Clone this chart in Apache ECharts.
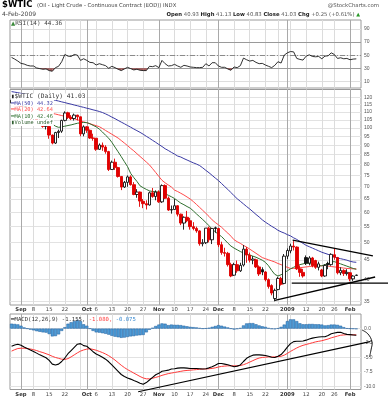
<!DOCTYPE html>
<html><head><meta charset="utf-8">
<script src="https://cdn.jsdelivr.net/npm/echarts@6/dist/echarts.min.js"></script>
<style>html,body{margin:0;padding:0;background:#fff}#c{width:388px;height:400px}</style>
</head><body><div id="c"></div>
<script>
const dates = [
'2008-08-27','2008-08-28','2008-08-29',
'2008-09-02','2008-09-03','2008-09-04','2008-09-05','2008-09-08','2008-09-09','2008-09-10','2008-09-11','2008-09-12',
'2008-09-15','2008-09-16','2008-09-17','2008-09-18','2008-09-19','2008-09-22','2008-09-23','2008-09-24','2008-09-25','2008-09-26',
'2008-09-29','2008-09-30',
'2008-10-01','2008-10-02','2008-10-03','2008-10-06','2008-10-07','2008-10-08','2008-10-09','2008-10-10','2008-10-13','2008-10-14',
'2008-10-15','2008-10-16','2008-10-17','2008-10-20','2008-10-21','2008-10-22','2008-10-23','2008-10-24','2008-10-27','2008-10-28',
'2008-10-29','2008-10-30','2008-10-31',
'2008-11-03','2008-11-04','2008-11-05','2008-11-06','2008-11-07','2008-11-10','2008-11-11','2008-11-12','2008-11-13','2008-11-14',
'2008-11-17','2008-11-18','2008-11-19','2008-11-20','2008-11-21','2008-11-24','2008-11-25','2008-11-26','2008-11-28',
'2008-12-01','2008-12-02','2008-12-03','2008-12-04','2008-12-05','2008-12-08','2008-12-09','2008-12-10','2008-12-11','2008-12-12',
'2008-12-15','2008-12-16','2008-12-17','2008-12-18','2008-12-19','2008-12-22','2008-12-23','2008-12-24','2008-12-26','2008-12-29',
'2008-12-30','2008-12-31',
'2009-01-02','2009-01-05','2009-01-06','2009-01-07','2009-01-08','2009-01-09','2009-01-12','2009-01-13','2009-01-14','2009-01-15',
'2009-01-16','2009-01-20','2009-01-21','2009-01-22','2009-01-23','2009-01-26','2009-01-27','2009-01-28','2009-01-29','2009-01-30',
'2009-02-02','2009-02-03','2009-02-04'];

const open = [116.3,118.2,115.6,115.0,109.5,109.3,108.0,106.5,106.3,103.3,
102.5,101.0,100.8,95.7,91.2,97.2,98.0,104.6,109.5,106.6,
105.8,108.0,106.9,96.4,100.6,98.5,94.0,93.9,87.8,90.0,
89.0,86.6,77.7,81.2,78.6,74.5,69.9,71.9,74.3,70.9,
66.8,67.8,64.1,63.2,62.7,67.5,66.0,67.8,63.9,70.5,
65.3,60.8,61.0,62.4,59.3,56.2,58.2,57.0,55.0,54.4,
53.6,49.6,49.9,54.5,50.8,54.6,54.4,49.3,47.0,46.8,
43.7,41.0,43.7,42.1,43.6,48.0,46.3,44.9,45.0,43.1,
42.4,41.8,39.9,38.5,35.6,37.6,40.2,39.0,46.0,47.5,
48.9,48.6,42.6,41.7,45.6,44.1,45.5,44.8,43.0,42.3,
40.8,44.0,43.7,46.4,45.6,41.6,42.2,41.4,41.6,40.1,
40.93];
const high = [119.4,118.6,117.4,116.0,111.5,109.9,108.9,108.0,106.9,105.2,
103.0,102.0,101.0,96.0,97.6,98.9,105.0,110.5,110.2,108.0,
109.0,108.2,107.0,101.5,101.0,99.0,96.5,94.0,91.0,91.5,
90.0,87.0,82.0,83.0,79.0,74.6,72.5,75.0,75.0,72.0,
69.0,68.0,65.0,64.5,68.0,69.5,68.5,68.5,71.0,71.0,
66.0,62.5,65.0,62.6,59.5,58.5,60.5,58.0,56.5,55.0,
53.8,51.0,54.5,55.0,54.5,55.0,54.6,50.2,48.4,47.2,
44.2,44.2,44.8,44.2,49.2,48.6,47.0,46.0,45.3,43.5,
43.0,42.0,40.2,38.8,37.8,40.6,40.6,46.6,48.2,49.6,
50.4,48.8,43.5,42.6,46.2,46.0,45.8,45.0,44.5,42.6,
43.8,44.5,46.8,48.2,45.8,43.0,42.5,42.5,41.8,41.0,
41.13];
const low = [115.6,114.6,114.5,105.5,106.8,107.0,104.7,103.5,102.3,101.7,
100.1,99.0,93.6,90.5,90.7,94.0,97.0,104.0,105.5,104.8,
104.5,104.6,95.0,95.0,97.0,93.5,92.5,87.0,87.5,87.0,
85.5,77.0,77.5,77.5,74.0,68.6,69.5,70.0,70.5,66.5,
65.5,62.0,61.5,61.0,62.5,65.5,64.5,63.5,63.5,65.0,
60.5,59.5,61.0,58.5,55.5,54.0,56.5,54.0,53.8,53.0,
49.0,48.8,49.5,50.0,49.5,53.0,48.6,46.4,45.9,43.2,
40.5,40.8,41.6,41.8,43.2,44.2,44.3,43.8,42.8,40.8,
41.0,39.5,37.8,36.3,35.0,37.4,38.5,38.8,45.2,46.8,
47.6,42.3,40.6,40.4,43.6,43.5,43.0,42.6,42.2,40.5,
40.6,42.5,43.4,45.0,41.2,41.0,40.8,40.9,39.5,39.6,
40.83];
const close = [118.2,115.6,115.5,109.7,109.4,107.9,106.2,106.3,103.3,102.6,
100.9,101.2,95.7,91.2,97.2,97.9,104.6,109.4,106.6,105.7,
108.0,106.9,96.4,100.6,98.5,94.0,93.9,87.8,90.1,89.0,
86.6,77.7,81.2,78.6,74.5,69.9,71.9,74.3,70.9,66.8,
67.8,64.2,63.2,62.7,67.5,66.0,67.8,63.9,70.5,65.3,
60.8,61.0,62.4,59.3,56.2,58.2,57.0,55.0,54.4,53.6,
49.6,49.9,54.5,50.8,54.4,54.4,49.3,47.0,46.8,43.7,
40.8,43.7,42.1,43.5,48.0,46.3,44.9,45.2,43.1,41.3,
41.8,39.9,38.3,36.8,37.4,40.2,38.8,46.0,47.6,48.9,
48.6,42.6,41.7,40.8,44.1,45.5,43.4,43.0,43.9,40.8,
43.5,43.7,46.5,45.7,41.6,42.2,41.4,41.7,40.1,40.78,
41.03];

const ma50 = [124.5,124.1,123.7,123.2,122.8,122.3,121.9,121.4,121.0,120.5,
120.0,119.6,119.1,118.6,118.1,117.6,117.0,116.5,115.9,115.4,
114.8,114.3,113.7,113.2,112.6,112.1,111.5,111.0,110.4,109.7,
108.8,107.8,106.7,105.7,104.6,103.5,102.5,101.4,100.4,99.3,
98.3,97.3,96.2,95.0,93.9,92.7,91.6,90.4,89.3,88.1,
87.2,86.2,85.3,84.3,83.8,83.0,82.3,81.6,80.9,80.3,
79.6,78.5,77.3,76.2,75.0,73.8,72.7,71.4,70.1,68.9,
67.6,66.3,65.1,64.1,63.1,62.1,61.2,60.2,59.2,58.3,
57.3,56.5,55.8,55.1,54.5,53.8,53.3,52.9,52.4,52.0,
51.4,50.9,50.3,49.7,49.1,48.7,48.3,47.9,47.5,47.1,
46.8,46.5,46.2,45.8,45.5,45.3,45.1,44.9,44.6,44.4,
44.32];
const ma20 = [114.5,114.2,113.9,113.5,113.1,112.7,112.3,111.9,111.5,111.0,
110.6,110.1,109.6,109.1,108.7,108.2,107.7,107.2,106.7,106.2,
105.6,105.0,104.4,103.7,103.1,102.5,101.9,101.3,100.7,99.6,
98.4,97.3,96.2,95.1,94.0,92.6,91.2,89.8,88.3,87.0,
85.5,84.1,82.7,81.3,79.9,78.1,76.3,74.5,72.8,71.7,
70.8,69.9,68.6,68.0,67.3,66.6,65.8,65.0,64.0,62.9,
61.8,60.7,59.6,58.5,57.3,56.4,55.6,54.8,53.8,52.9,
51.9,50.8,50.2,49.7,49.1,48.6,48.0,47.4,46.8,46.2,
45.6,45.3,45.0,44.7,44.4,44.0,43.7,43.3,43.0,42.7,
42.7,42.8,42.9,43.0,43.1,43.2,43.3,43.35,43.4,43.4,
43.4,43.3,43.2,43.1,43.0,42.9,42.8,42.7,42.65,42.6,
42.64];
const ma10 = [115.5,115.6,115.7,115.0,114.2,113.2,112.0,110.8,109.5,108.2,
106.7,105.5,104.0,102.3,101.0,100.3,100.6,101.0,101.4,101.8,
102.3,102.8,103.1,103.3,103.2,102.5,101.5,100.6,99.2,97.5,
95.6,93.9,91.6,89.0,86.5,84.0,81.5,79.1,75.9,74.0,
72.3,70.4,69.6,68.9,68.3,68.0,67.9,67.8,67.6,67.1,
66.5,65.9,65.2,64.3,63.4,62.8,62.1,61.5,60.5,59.4,
58.4,57.4,56.4,55.3,54.2,53.3,52.5,51.8,50.8,49.8,
48.9,48.3,47.8,47.3,46.9,46.6,46.3,46.0,45.7,45.3,
44.9,44.3,43.4,42.2,41.2,40.8,41.1,41.6,42.1,42.6,
43.0,43.4,43.7,43.9,44.1,44.0,43.8,43.6,43.4,43.4,
43.7,44.0,44.4,44.5,44.2,43.9,43.6,43.3,43.0,42.7,
42.46];

const rsi = [46.5,44,41,37.5,36.5,34.5,33.5,33.5,30.5,29.5,
28.5,29,26.5,25.5,31,33,40,51,48.5,48,
51,50,42,44.5,42,39,38.5,35,37,35.5,
34,30,33,31,28.5,26.5,29,31.5,29.5,27.5,
28.5,27,26.5,26.5,33,32.5,34,31,42,37,
33.5,34,36,33.5,31.5,34.5,33.5,32,31.5,31,
31,31.5,37,33.5,38.5,38.5,33.5,31.5,31.5,29,
27,32,31,34,45.5,43,41,42,39,37,
37.5,35,33,31,34.5,40,38,50,53.5,55.5,
55,45,43.5,42.5,48.5,50.5,48,47.5,48,44.5,
48.5,49,53.5,51,45,46,44.5,45,43,44,
44.36];

const macd = [-3.05,-2.85,-2.72,-2.9,-3.2,-3.45,-3.7,-3.95,-4.25,-4.55,
-4.8,-5.05,-5.5,-6.15,-6.3,-6.15,-5.7,-5.1,-4.35,-3.8,
-3.25,-2.7,-2.6,-2.95,-3.05,-3.5,-4.0,-4.4,-4.65,-4.95,
-5.3,-5.75,-6.3,-6.85,-7.4,-7.95,-8.3,-8.55,-8.75,-9.0,
-9.2,-9.45,-9.65,-9.35,-8.9,-8.45,-8.0,-7.75,-7.4,-7.3,
-7.2,-7.0,-6.95,-6.85,-6.8,-6.8,-6.85,-6.9,-6.9,-6.9,
-6.95,-7.0,-6.95,-6.8,-6.6,-6.35,-6.05,-6.05,-6.15,-6.25,
-6.45,-6.6,-6.5,-6.3,-5.7,-5.15,-4.85,-4.6,-4.55,-4.55,
-4.6,-4.65,-4.8,-4.95,-5.0,-4.8,-4.5,-3.9,-3.2,-2.6,
-2.25,-2.2,-2.18,-2.15,-2.0,-1.8,-1.65,-1.55,-1.45,-1.4,
-1.4,-1.2,-0.9,-0.75,-0.65,-0.65,-0.85,-1.0,-1.05,-1.1,
-1.155];
const signal = [-3.9,-3.65,-3.45,-3.4,-3.4,-3.45,-3.53,-3.65,-3.8,-4.0,
-4.15,-4.35,-4.55,-4.8,-5.0,-5.15,-5.3,-5.35,-5.2,-4.9,
-4.55,-4.2,-3.9,-3.7,-3.55,-3.5,-3.6,-3.75,-3.95,-4.15,
-4.4,-4.7,-5.05,-5.45,-5.9,-6.35,-6.75,-7.1,-7.4,-7.7,
-8.0,-8.3,-8.55,-8.7,-8.7,-8.6,-8.45,-8.3,-8.1,-7.95,
-7.8,-7.7,-7.6,-7.5,-7.4,-7.3,-7.25,-7.2,-7.15,-7.1,
-7.05,-7.0,-7.0,-6.95,-6.9,-6.8,-6.65,-6.55,-6.5,-6.45,
-6.45,-6.45,-6.45,-6.4,-6.25,-6.05,-5.8,-5.55,-5.3,-5.1,
-5.0,-4.95,-4.9,-4.9,-4.9,-4.85,-4.8,-4.6,-4.3,-3.95,
-3.65,-3.35,-3.1,-2.9,-2.75,-2.6,-2.45,-2.3,-2.2,-2.1,
-1.95,-1.8,-1.6,-1.45,-1.3,-1.15,-1.1,-1.05,-1.05,-1.07,
-1.08];
const hist = [0.85,0.8,0.73,0.5,0.2,0.0,-0.17,-0.3,-0.45,-0.55,
-0.65,-0.7,-0.95,-1.35,-1.3,-1.0,-0.4,0.25,0.85,1.1,
1.3,1.5,1.3,0.75,0.5,0.0,-0.4,-0.65,-0.7,-0.8,
-0.9,-1.05,-1.25,-1.4,-1.5,-1.6,-1.55,-1.45,-1.35,-1.3,
-1.2,-1.15,-1.1,-0.65,-0.2,0.15,0.45,0.7,0.9,0.85,
0.6,0.7,0.65,0.65,0.6,0.5,0.4,0.3,0.25,0.2,
0.1,0.0,0.05,0.15,0.3,0.45,0.6,0.5,0.35,0.2,
0.0,-0.15,-0.05,0.1,0.55,0.9,0.95,0.95,0.75,0.55,
0.4,0.3,0.1,-0.05,-0.1,0.05,0.3,0.7,1.3,1.6,
1.6,1.3,0.92,0.75,0.75,0.8,0.8,0.75,0.75,0.7,
0.55,0.6,0.7,0.7,0.65,0.5,0.25,0.05,0.0,-0.03,
-0.075];

const monthLabels = [['2008-09-02','Sep'],['2008-10-01','Oct'],['2008-11-03','Nov'],['2008-12-01','Dec'],['2009-01-02','2009'],['2009-02-02','Feb']];
const weekLabels = [['2008-09-08','8'],['2008-09-15','15'],['2008-09-22','22'],['2008-09-29',''],['2008-10-06','6'],['2008-10-13','13'],
['2008-10-20','20'],['2008-10-27','27'],['2008-11-10','10'],['2008-11-17','17'],['2008-11-24','24'],['2008-12-08','8'],['2008-12-15','15'],
['2008-12-22','22'],['2008-12-29',''],['2009-01-05',''],['2009-01-12','12'],['2009-01-20','20'],['2009-01-26','26']];
const priceTicks = [35,40,45,50,55,60,65,70,75,80,85,90,95,100,105,110,115,120];
const rsiTicks = [10,30,50,70,90];
const macdTicks = [0,-2.5,-5,-7.5,-10];
const rsiOversold = 30;

// annotation trendlines in data space: [index, value]
const priceTrendLines = [[[89.7,50.66],[115.3,46.07]],[[89.4,39.09],[121,39.09]],[[84,35.2],[116,40.55]]];
const macdTrendLines = [[[40.4,-10.94],[114.4,-2.27]]];

const N = dates.length;
const monthIdx = [], weekIdx = [], tickText = {};
monthLabels.forEach(([d,t]) => { const i = dates.indexOf(d); monthIdx.push(i); tickText[i] = '{m|' + t + '}'; });
weekLabels.forEach(([d,t]) => { const i = dates.indexOf(d); weekIdx.push(i); if (t) tickText[i] = t; });
const lineIdx = monthIdx.concat(weekIdx).sort((a,b)=>a-b);
const labelIdx = Object.keys(tickText).map(Number).sort((a,b)=>a-b);

const XMIN = -0.5, XMAX = N + 0.5;
const LBL = 'Liberation Sans';
function xAx(g, withLabels) {
  return {type:'value', gridIndex:g, min:XMIN, max:XMAX, position:'bottom',
    axisLine:{show:false}, axisTick:{show:false, customValues: lineIdx},
    splitLine:{show:true, lineStyle:{color:'#dcdcdc', width:1}},
    axisLabel: withLabels ? {show:true, customValues: labelIdx, formatter: v => tickText[Math.round(v)] || '',
      fontFamily:'DejaVu Sans', fontSize:5.3, color:'#444', margin:2.5,
      rich:{m:{fontWeight:'bold', fontFamily:'DejaVu Sans', fontSize:5.3, color:'#333'}}} : {show:false}};
}
function xMon(g) {
  return {type:'value', gridIndex:g, min:XMIN, max:XMAX, position:'top', axisLine:{show:false},
    axisTick:{show:false, customValues: monthIdx}, axisLabel:{show:false},
    splitLine:{show:true, lineStyle:{color:'#a9a9a9', width:1}}};
}
function yLab(ticks, fmt) {
  return {customValues: ticks, fontFamily: LBL, fontSize:5, color:'#555', margin:3, formatter: fmt};
}

const candleData = dates.map((d,i) => {
  const o = open[i], c = close[i], l = low[i], h = high[i];
  const prev = i > 0 ? close[i-1] : o;
  const col = c >= prev ? '#111111' : '#e00000';
  const fill = c > o ? '#ffffff' : col;
  return {value:[i,o,c,l,h], itemStyle:{color:fill, color0:fill, borderColor:col, borderColor0:col, borderColorDoji:col}};
});
const pair = arr => arr.map((v,i) => [i, v]);

const names = ['$WTIC (Daily) 41.03','MA(50) 44.32','MA(20) 42.64','MA(10) 42.46','Volume undef'];
const legendText = {
  '$WTIC (Daily) 41.03':'{k|▮}{a|$WTIC (Daily) 41.03}',
  'MA(50) 44.32':'{lb|━}{tb|MA(50) 44.32}',
  'MA(20) 42.64':'{lr|━}{tr|MA(20) 42.64}',
  'MA(10) 42.46':'{lg|━}{tg|MA(10) 42.46}',
  'Volume undef':'{lv|▮}{tv|Volume undef}'
};
const C50 = '#3a3aa4', C20 = '#ff4a4a', C10 = '#2f6f2f';
const mono = 'DejaVu Sans Mono';
const tk = (color, size) => ({color, fontSize:size, fontFamily:mono, lineHeight:6.5});

// RSI oversold shading: polygon between the RSI segment and the 30 line, via the axis scales
function rsiFill(params, api) {
  const i = api.value(0), a = api.value(1), b = api.value(2), L = rsiOversold;
  if (i >= N - 1 || (a >= L && b >= L)) return null;
  let pts;
  if (a < L && b < L) pts = [[i,L],[i,a],[i+1,b],[i+1,L]];
  else if (a < L) { const t = (L-a)/(b-a); pts = [[i,L],[i,a],[i+t,L]]; }
  else { const t = (a-L)/(a-b); pts = [[i+t,L],[i+1,b],[i+1,L]]; }
  return {type:'polygon', shape:{points: pts.map(p => api.coord(p))}, style:{fill:'#a04a4a', opacity:0.9}};
}

const chart = echarts.init(document.getElementById('c'), null, {renderer:'canvas', width:388, height:400});
chart.setOption({
  animation:false,
  backgroundColor:'#ffffff',
  grid:[
    {left:10, right:27, top:20, height:68, show:true, borderColor:'#9a9a9a', borderWidth:1},
    {left:10, right:27, top:89.5, height:215.5, show:true, borderColor:'#9a9a9a', borderWidth:1},
    {left:10, right:27, top:314, height:75.5, show:true, borderColor:'#9a9a9a', borderWidth:1}
  ],
  xAxis:[xAx(0,false), xMon(0), xAx(1,true), xMon(1), xAx(2,true), xMon(2)],
  yAxis:[
    {type:'value', gridIndex:0, position:'right', min:0, max:103.5, axisLine:{show:false},
     axisTick:{show:false, customValues: rsiTicks}, axisLabel: yLab(rsiTicks, v => String(v)),
     splitLine:{lineStyle:{color:'#dedede'}}},
    {type:'log', logBase:10, gridIndex:1, position:'right', min:34.23, max:126.1, axisLine:{show:false},
     axisTick:{show:false, customValues: priceTicks}, axisLabel: yLab(priceTicks, v => String(Math.round(v))),
     splitLine:{lineStyle:{color:'#e2e2e2'}}},
    {type:'value', gridIndex:2, position:'right', min:-10.55, max:2.53, axisLine:{show:false},
     axisTick:{show:false, customValues: macdTicks}, axisLabel: yLab(macdTicks, v => Number(v).toFixed(1)),
     splitLine:{lineStyle:{color:'#e2e2e2'}}}
  ],
  legend:{
    left:6, top:93.5, orient:'vertical', itemGap:0, itemWidth:0, itemHeight:6.5, icon:'none', padding:0,
    selectedMode:false, data:names, formatter: n => legendText[n],
    textStyle:{fontFamily:mono, fontSize:5.4, lineHeight:6.5, backgroundColor:'#ffffff', padding:[0,1,0,0],
      rich:{
        k:tk('#222',6), a:tk('#333',6.2),
        lb:tk(C50,6), tb:tk(C50,5.3),
        lr:tk(C20,6), tr:tk(C20,5.3),
        lg:tk(C10,6), tg:tk(C10,5.3),
        lv:tk('#2f5f2f',6), tv:tk('#2f5f2f',5.3)
      }}
  },
  series:[
    {type:'custom', xAxisIndex:0, yAxisIndex:0, silent:true, z:2, renderItem: rsiFill,
     encode:{x:0, y:1}, data: rsi.map((v,i) => [i, v, i + 1 < N ? rsi[i+1] : v])},
    {type:'line', xAxisIndex:0, yAxisIndex:0, data: pair(rsi), showSymbol:false, z:4,
     lineStyle:{color:'#1a1a1a', width:0.9},
     markLine:{silent:true, symbol:'none', z:1, label:{show:false},
       lineStyle:{color:'#9a9a9a', width:1, type:'solid'},
       data:[{yAxis:70},{yAxis:30},{yAxis:50, lineStyle:{type:[5,2,1,2], color:'#8a8a8a'}}]}},
    {type:'candlestick', name:names[0], xAxisIndex:2, yAxisIndex:1, data:candleData, barWidth:3,
     encode:{x:0, y:[1,2,3,4]}, itemStyle:{borderWidth:0.9}, z:3},
    {type:'line', name:names[1], xAxisIndex:2, yAxisIndex:1, data: pair(ma50), showSymbol:false,
     lineStyle:{color:C50, width:1}, itemStyle:{color:C50}, z:2},
    {type:'line', name:names[2], xAxisIndex:2, yAxisIndex:1, data: pair(ma20), showSymbol:false,
     lineStyle:{color:C20, width:1}, itemStyle:{color:C20}, z:2},
    {type:'line', name:names[3], xAxisIndex:2, yAxisIndex:1, data: pair(ma10), showSymbol:false,
     lineStyle:{color:C10, width:1}, itemStyle:{color:C10}, z:2},
    {type:'line', name:names[4], xAxisIndex:2, yAxisIndex:1, data: [], itemStyle:{color:'#2f5f2f'}},
    {type:'bar', xAxisIndex:4, yAxisIndex:2, data: pair(hist), barWidth:3.1,
     itemStyle:{color:'#4d9bd6', borderColor:'#1f5f9e', borderWidth:0.5}},
    {type:'line', xAxisIndex:4, yAxisIndex:2, data: pair(macd), showSymbol:false, lineStyle:{color:'#000', width:1.1}, z:4},
    {type:'line', xAxisIndex:4, yAxisIndex:2, data: pair(signal), showSymbol:false, lineStyle:{color:'#ff3a3a', width:1}, z:3}
  ]
});

const P = (xi, yi, pt) => chart.convertToPixel({xAxisIndex:xi, yAxisIndex:yi}, pt);
const seg = (a, b, w, col) => ({type:'line', silent:true, z:100,
  shape:{x1:a[0], y1:a[1], x2:b[0], y2:b[1]}, style:{stroke:col || '#000', lineWidth:w}});
const txt = (x, y, text, font, fill, align, rich) => ({type:'text', silent:true, z:100, x, y,
  style:{text, font, fill, align: align || 'left', verticalAlign:'middle', rich}});
const DV = 'DejaVu Sans';
const graphics = [
  txt(2, 5, '$WTIC', 'bold 8.5px ' + DV, '#000'),
  txt(37, 5.5, '(Oil - Light Crude - Continuous Contract (EOD)) INDX', '5.3px ' + DV, '#444'),
  txt(379, 5.5, '@StockCharts.com', '5.4px ' + DV, '#555', 'right'),
  txt(2, 14.5, '4-Feb-2009', '6px ' + DV, '#444'),
  txt(360, 14.5, '{b|Open} {n|40.93} {b|High} {n|41.13} {b|Low} {n|40.83} {b|Close} {n|41.03} {b|Chg} {n|+0.25 (+0.61%)} {g|▲}',
    '5.3px ' + DV, '#444', 'right', {
      b:{font:'bold 5.3px ' + DV, fill:'#222'},
      n:{font:'5.3px ' + DV, fill:'#555'},
      g:{font:'5px ' + DV, fill:'#2a9a2a'}}),
  txt(11, 23.5, '{g|▲}{t|RSI(14) 44.36}', '6px ' + mono, '#444', 'left', {
      g:{font:'5.5px ' + DV, fill:'#3a8a3a'},
      t:{font:'6px ' + mono, fill:'#444'}}),
  txt(11, 319.5, '{l|━}{t|MACD(12,26,9) -1.155,} {r|-1.080,} {b|-0.075}', '5.6px ' + mono, '#222', 'left', {
      l:{font:'6px ' + mono, fill:'#000'},
      t:{font:'5.6px ' + mono, fill:'#333'},
      r:{font:'5.6px ' + mono, fill:'#ff3a3a'},
      b:{font:'5.6px ' + mono, fill:'#3a8ad0'}})
];
priceTrendLines.forEach(([a,b]) => graphics.push(seg(P(2,1,a), P(2,1,b), 1.3)));
macdTrendLines.forEach(([a,b]) => graphics.push(seg(P(4,2,a), P(4,2,b), 1.2)));
graphics.push({type:'polyline', silent:true, z:100,
  shape:{points:[[362,330],[368,334],[372,342],[371,350],[369.5,357]], smooth:0.4},
  style:{stroke:'#000', lineWidth:0.9, fill:null}});
chart.setOption({graphic: graphics});
</script>
</body></html>
